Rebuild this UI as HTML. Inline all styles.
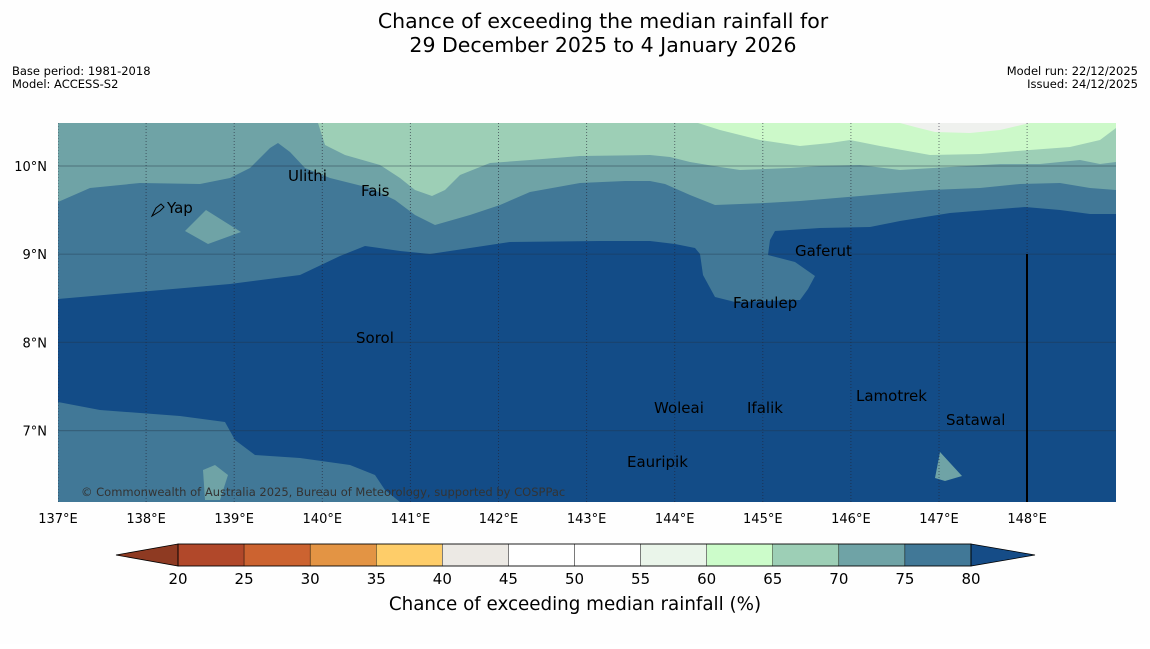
<!DOCTYPE html>
<html><head><meta charset="utf-8"><style>
body{margin:0;background:#fff;font-family:"Liberation Sans","DejaVu Sans",sans-serif}
svg text{font-family:"DejaVu Sans","Liberation Sans",sans-serif}
</style></head><body>
<svg id="s" width="1150" height="644" viewBox="0 0 1150 644" xmlns="http://www.w3.org/2000/svg">
<rect width="1150" height="644" fill="#fefefe"/>
<text x="603" y="28" font-size="20.5" text-anchor="middle">Chance of exceeding the median rainfall for</text>
<text x="603" y="52" font-size="20.5" text-anchor="middle">29 December 2025 to 4 January 2026</text>
<text x="12" y="75" font-size="11.5">Base period: 1981-2018</text>
<text x="12" y="88" font-size="11.5">Model: ACCESS-S2</text>
<text x="1138" y="75" font-size="11.5" text-anchor="end">Model run: 22/12/2025</text>
<text x="1138" y="88" font-size="11.5" text-anchor="end">Issued: 24/12/2025</text>
<defs><clipPath id="c"><rect x="58" y="123" width="1058" height="379"/></clipPath></defs>
<g clip-path="url(#c)">
<rect x="58" y="123" width="1058" height="379" fill="#134c87"/>
<polygon fill="#417897" points="58,299 230,284 300,275 340,256 365,246 400,251 430,254 470,248 510,242 600,241 650,241 675,244 695,248 700,254 703,275 715,297 735,302 800,300 808,289 815,276 795,262 768,255 770,240 775,231 820,228 870,227 900,221 950,213 1000,209 1025,207 1060,210 1090,214 1116,214 1116,123 58,123"/>
<polygon fill="#417897" points="58,402 100,410 180,416 225,422 235,440 255,455 300,458 350,465 375,475 385,490 400,502 58,502"/>
<polygon fill="#6fa3a6" points="58,202 90,188 140,183 200,184 230,178 250,168 270,148 278,143 290,152 305,168 330,178 370,188 395,200 415,215 435,225 470,215 500,205 530,192 580,183 625,181 650,181 665,184 690,195 715,205 765,203 800,201 860,196 930,190 980,188 1020,184 1060,183 1090,188 1116,190 1116,123 58,123"/>
<polygon fill="#6fa3a6" points="185,231 206,210 241,232 208,244"/>
<polygon fill="#6fa3a6" points="203,470 215,465 228,475 220,500 205,500"/>
<polygon fill="#6fa3a6" points="940,452 962,476 945,481 935,478"/>
<polygon fill="#9dcfb6" points="318,123 325,145 345,155 380,165 400,178 415,190 432,196 445,190 460,175 490,163 530,160 580,156 650,155 670,157 690,162 720,167 740,170 790,168 820,166 860,165 900,170 950,167 1000,164 1040,164 1080,160 1100,164 1116,162 1116,123"/>
<polygon fill="#ccf9c9" points="698,123 720,130 760,140 800,146 830,143 850,140 880,146 930,155 980,154 1030,150 1070,147 1100,140 1116,128 1116,123"/>
<polygon fill="#eff1ee" points="900,123 915,127 935,132 970,133 1000,130 1030,123"/>
<g id="grid"></g>
<line x1="1027" y1="254" x2="1027" y2="502" stroke="#000" stroke-width="2"/>
<path d="M152,216 l4,-8 l5,-4 l3,3 l-4,4 z" fill="none" stroke="#000" stroke-width="1"/>
<g font-size="15" fill="#000">
<text x="167" y="213">Yap</text><text x="288" y="181">Ulithi</text><text x="361" y="196">Fais</text>
<text x="795" y="256">Gaferut</text><text x="733" y="308">Faraulep</text><text x="356" y="343">Sorol</text>
<text x="856" y="401">Lamotrek</text><text x="654" y="413">Woleai</text><text x="747" y="413">Ifalik</text>
<text x="946" y="425">Satawal</text><text x="627" y="467">Eauripik</text>
</g>
<text x="81" y="496" font-size="11.5" fill="#333">© Commonwealth of Australia 2025, Bureau of Meteorology, supported by COSPPac</text>
</g>
<g id="axes"></g>
<g id="cb"></g>
<text x="575" y="610" font-size="18.3" text-anchor="middle">Chance of exceeding median rainfall (%)</text>
</svg>
<script>
const lonTicks=[137,138,139,140,141,142,143,144,145,146,147,148];
const latTicks=[10,9,8,7];
const cbBounds=[20,25,30,35,40,45,50,55,60,65,70,75,80];
const cbColors=["#b1482a","#cc6330","#e39444","#fecd69","#ece9e4","#ffffff","#ffffff","#eaf5ea","#ccfcca","#9dcfb6","#6fa3a6","#417897"];
const NS="http://www.w3.org/2000/svg";
const xLon=l=>58+(l-137)*88.1;
const yLat=l=>166+(10-l)*88.2;
const xCb=v=>178+(v-20)*(971-178)/60;
function mk(t,a,p){const e=document.createElementNS(NS,t);for(const k in a)e.setAttribute(k,a[k]);p.appendChild(e);return e;}
const g=document.getElementById('grid'),ax=document.getElementById('axes'),cb=document.getElementById('cb');
lonTicks.forEach(l=>{
 const ln=mk('line',{x1:xLon(l),x2:xLon(l),y1:123,y2:502,stroke:'#223',"stroke-width":1,"stroke-dasharray":"1,2","stroke-opacity":0.6},g);
 
 
 const t=mk('text',{x:xLon(l),y:523,"font-size":13,"text-anchor":"middle"},ax);t.textContent=l+'°E';
 
 
});
latTicks.forEach(l=>{
 const ln=mk('line',{x1:58,x2:1116,y1:yLat(l),y2:yLat(l),stroke:'#234',"stroke-width":1.2,"stroke-opacity":0.35},g);
 
 
 const t=mk('text',{x:47,y:yLat(l)+5,"font-size":13,"text-anchor":"end"},ax);t.textContent=l+'°N';
 
 
});
cbColors.forEach((c,i)=>{
 const r=mk('rect',{x:xCb(cbBounds[i]),y:544,width:xCb(cbBounds[i+1])-xCb(cbBounds[i]),height:22,fill:c,stroke:'#000',"stroke-width":0.4},cb);
 
 
});
const lt=mk('polygon',{points:`${xCb(20)},544 116,555 ${xCb(20)},566`,fill:'#8e3a22',stroke:'#000',"stroke-width":0.8},cb);


const rt=mk('polygon',{points:`${xCb(80)},544 1035,555 ${xCb(80)},566`,fill:'#154c87',stroke:'#000',"stroke-width":0.8},cb);


mk('rect',{x:xCb(20),y:544,width:xCb(80)-xCb(20),height:22,fill:'none',stroke:'#000',"stroke-width":0.8},cb);
cbBounds.forEach(v=>{
 const t=mk('text',{x:xCb(v),y:584,"font-size":15,"text-anchor":"middle"},cb);t.textContent=v;
 
 
});
</script>
</body></html>
